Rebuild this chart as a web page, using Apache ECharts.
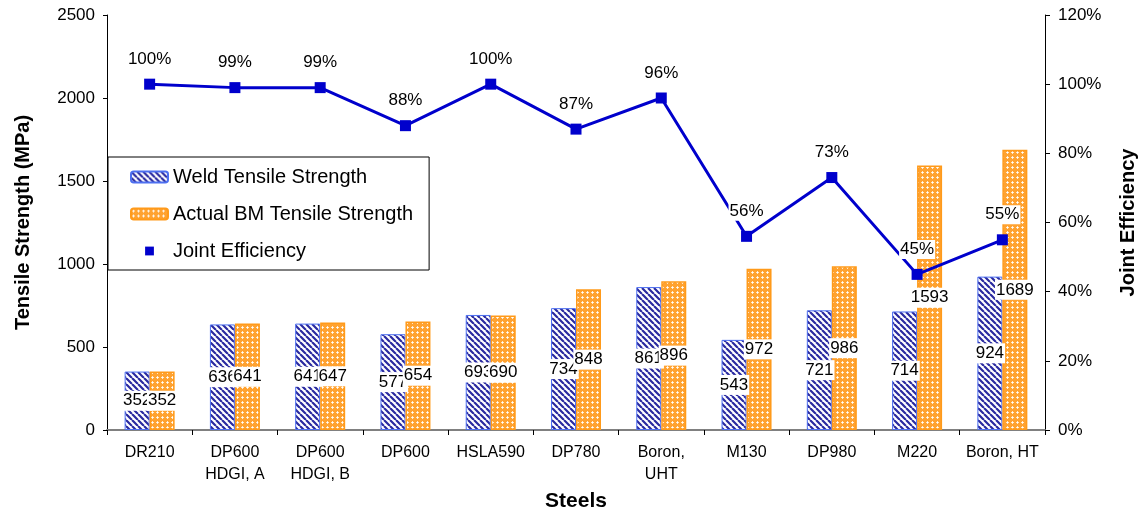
<!DOCTYPE html>
<html>
<head>
<meta charset="utf-8">
<script src="https://cdn.jsdelivr.net/npm/echarts@6/dist/echarts.min.js"></script>
<style>
  html, body { margin: 0; padding: 0; background: #fff; }
  #chart { width: 1140px; height: 514px; }
</style>
</head>
<body>
<div id="chart"></div>
<script>
// Steel grades on the x axis
const steels = ['DR210', 'DP600\nHDGI, A', 'DP600\nHDGI, B', 'DP600', 'HSLA590', 'DP780',
  'Boron,\nUHT', 'M130', 'DP980', 'M220', 'Boron, HT'];
// Tensile strengths in MPa
const weldStrength = [352, 636, 641, 577, 693, 734, 861, 543, 721, 714, 924];
const baseMetalStrength = [352, 641, 647, 654, 690, 848, 896, 972, 986, 1593, 1689];
// Joint efficiency (weld / base metal), as a fraction
const jointEfficiency = [1.00, 0.99, 0.99, 0.88, 1.00, 0.87, 0.96, 0.56, 0.73, 0.45, 0.55];

// Hatch fills for the two bar series
function stripePattern() {
  const c = document.createElement('canvas');
  c.width = 6; c.height = 6;
  const g = c.getContext('2d');
  g.fillStyle = '#ffffff';
  g.fillRect(0, 0, 6, 6);
  g.strokeStyle = '#2a2aa0';
  g.lineWidth = 2.2;
  g.beginPath();
  for (let k = -6; k <= 12; k += 6) {
    g.moveTo(k, 0);
    g.lineTo(k + 6, 6);
  }
  g.stroke();
  return c;
}
function crossPattern() {
  const c = document.createElement('canvas');
  c.width = 5; c.height = 5;
  const g = c.getContext('2d');
  g.fillStyle = '#ffa230';
  g.fillRect(0, 0, 5, 5);
  g.fillStyle = '#ffe9cc';
  g.fillRect(2, 1, 1, 3);
  g.fillRect(1, 2, 3, 1);
  g.fillStyle = '#ffffff';
  g.fillRect(2, 2, 1, 1);
  return c;
}

const chart = echarts.init(document.getElementById('chart'), null, { renderer: 'canvas' });
const font = 'Arial, "Liberation Sans", sans-serif';

const barLabel = {
  show: true,
  position: 'inside',
  color: '#000',
  fontSize: 17,
  fontFamily: font,
  backgroundColor: '#fff',
  padding: [2, 1, 1, 1]
};

chart.setOption({
  animation: false,
  textStyle: { fontFamily: font },
  grid: { left: 107, right: 95, top: 15, bottom: 84, containLabel: false, outerBoundsMode: 'none' },
  legend: {
    orient: 'vertical',
    left: 108,
    top: 157,
    backgroundColor: '#fff',
    borderColor: '#000',
    borderWidth: 1,
    borderRadius: 0,
    padding: [10, 16, 9, 22],
    itemWidth: 37,
    itemHeight: 11,
    itemGap: 17,
    textStyle: { fontSize: 20, color: '#000', fontFamily: font },
    data: [
      { name: 'Weld Tensile Strength' },
      { name: 'Actual BM Tensile Strength' },
      { name: 'Joint Efficiency', lineStyle: { opacity: 0 } }
    ]
  },
  xAxis: {
    type: 'category',
    data: steels,
    name: 'Steels',
    nameLocation: 'middle',
    nameGap: 56,
    nameTextStyle: { fontSize: 21, fontWeight: 'bold', color: '#000' },
    axisLine: { lineStyle: { color: '#808080', width: 2 } },
    axisTick: { show: true, length: 5, lineStyle: { color: '#000' } },
    axisLabel: { color: '#000', fontSize: 16, margin: 12, lineHeight: 22, interval: 0 }
  },
  yAxis: [
    {
      type: 'value',
      min: 0, max: 2500, interval: 500,
      name: 'Tensile Strength (MPa)',
      nameLocation: 'middle',
      nameGap: 74,
      nameTextStyle: { fontSize: 20, fontWeight: 'bold', color: '#000' },
      axisLine: { show: true, lineStyle: { color: '#000' } },
      axisTick: { show: true, length: 4, lineStyle: { color: '#000' } },
      axisLabel: { color: '#000', fontSize: 17, margin: 12, formatter: v => String(v) },
      splitLine: { show: false }
    },
    {
      type: 'value',
      min: 0, max: 1.2, interval: 0.2,
      position: 'right',
      name: 'Joint Efficiency',
      nameLocation: 'middle',
      nameGap: 73,
      nameRotate: 90,
      nameTextStyle: { fontSize: 20, fontWeight: 'bold', color: '#000' },
      axisLine: { show: true, lineStyle: { color: '#000' } },
      axisTick: { show: true, length: 5, lineStyle: { color: '#000' } },
      axisLabel: { color: '#000', fontSize: 17, margin: 13,
        formatter: v => Math.round(v * 100) + '%' },
      splitLine: { show: false }
    }
  ],
  series: [
    {
      name: 'Weld Tensile Strength',
      type: 'bar',
      data: weldStrength,
      barWidth: 25,
      barGap: '0%',
      itemStyle: {
        color: { image: stripePattern(), repeat: 'repeat' },
        borderColor: '#4d6ff0',
        borderWidth: 1
      },
      label: barLabel,
      z: 2
    },
    {
      name: 'Actual BM Tensile Strength',
      type: 'bar',
      data: baseMetalStrength,
      barWidth: 25,
      barGap: '0%',
      itemStyle: {
        color: { image: crossPattern(), repeat: 'repeat' },
        borderColor: '#ff9a1a',
        borderWidth: 1.5
      },
      label: barLabel,
      z: 2
    },
    {
      name: 'Joint Efficiency',
      type: 'line',
      yAxisIndex: 1,
      data: jointEfficiency,
      symbol: 'rect',
      symbolSize: 11,
      color: '#0000cc',
      lineStyle: { color: '#0000cc', width: 3 },
      itemStyle: { color: '#0000cc' },
      label: {
        show: true,
        position: 'top',
        distance: 10,
        color: '#000',
        fontSize: 17,
        backgroundColor: '#fff',
        padding: [1, 1],
        formatter: p => Math.round(p.value * 100) + '%'
      },
      z: 5
    }
  ]
});
</script>
</body>
</html>
